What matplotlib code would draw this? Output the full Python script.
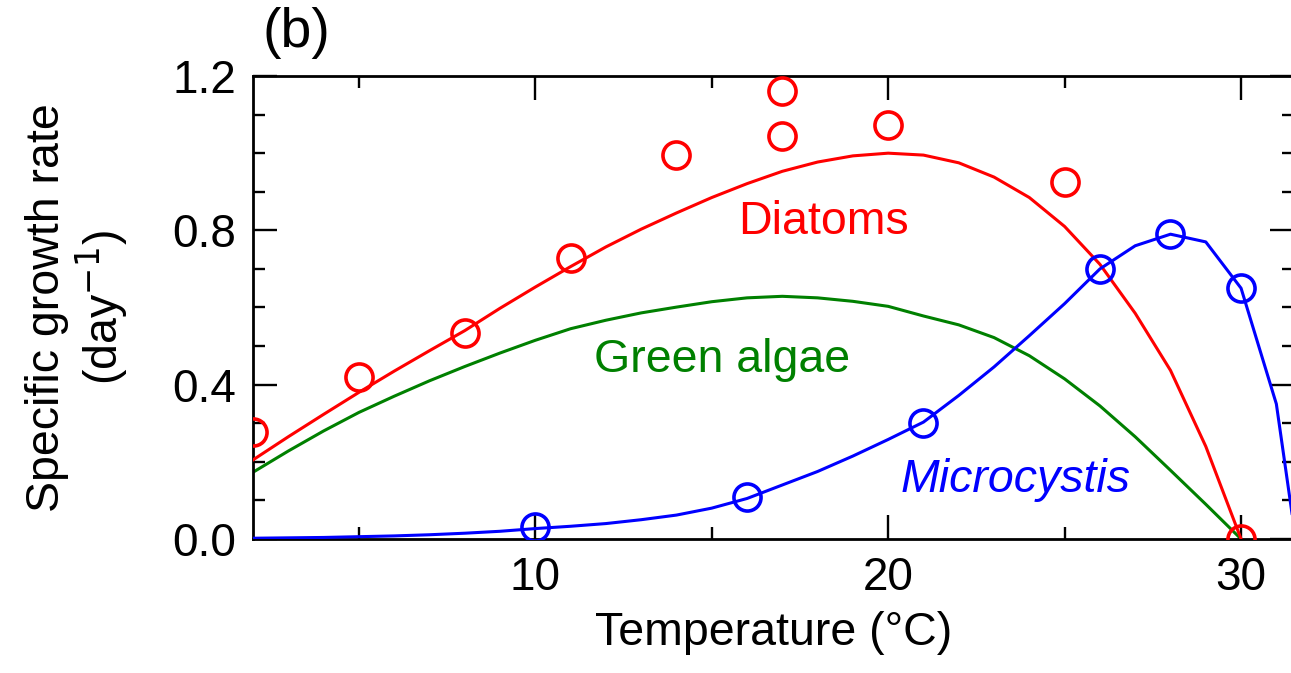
import matplotlib
matplotlib.use("Agg")
import matplotlib.pyplot as plt
from matplotlib.ticker import MultipleLocator, FormatStrFormatter

plt.rcParams['font.family'] = ['Liberation Sans', 'DejaVu Sans']

# Observed data points
diatom_T = [2, 5, 8, 11, 14, 17, 17, 20, 25, 30]
diatom_obs = [0.277, 0.42, 0.533, 0.727, 0.996, 1.045, 1.161, 1.073, 0.926, 0.0]
micro_T = [10, 16, 21, 26, 28, 30]
micro_obs = [0.031, 0.109, 0.300, 0.700, 0.790, 0.650]

# Model curves (values at 1 degree steps)
curve_T = list(range(2, 31))
diatom_curve = [0.205, 0.265, 0.323, 0.38, 0.435, 0.488, 0.54, 0.598, 0.653, 0.706,
                0.757, 0.803, 0.845, 0.885, 0.921, 0.953, 0.977, 0.993, 1.0, 0.995,
                0.975, 0.938, 0.885, 0.81, 0.712, 0.585, 0.437, 0.24, 0.0]
green_curve = [0.173, 0.228, 0.28, 0.328, 0.37, 0.41, 0.447, 0.482, 0.515, 0.545,
               0.567, 0.586, 0.601, 0.615, 0.625, 0.629, 0.625, 0.616, 0.603, 0.578,
               0.555, 0.522, 0.475, 0.415, 0.345, 0.265, 0.178, 0.09, 0.0]
micro_curve_T = list(range(2, 32)) + [31.5]
micro_curve = [0.002, 0.003, 0.004, 0.006, 0.008, 0.011, 0.015, 0.02, 0.027, 0.033,
               0.04, 0.05, 0.062, 0.08, 0.105, 0.14, 0.175, 0.215, 0.258, 0.303,
               0.372, 0.446, 0.527, 0.61, 0.70, 0.76, 0.79, 0.77, 0.65, 0.35, 0.03]

RED = '#ff0000'
GREEN = '#008000'
BLUE = '#0000ff'

fig = plt.figure(figsize=(12.91, 6.73), dpi=100)
ax = fig.add_axes([253/1291, (673-539)/673, (1294-253)/1291, (539-76)/673])

lw = 2.2
ax.plot(curve_T, diatom_curve, color=RED, lw=lw, zorder=3)
ax.plot(curve_T, green_curve, color=GREEN, lw=lw, zorder=2)
ax.plot(micro_curve_T, micro_curve, color=BLUE, lw=lw, zorder=3)

ax.plot(diatom_T, diatom_obs, 'o', ms=19.5, mfc='none', mec=RED, mew=2.6, zorder=4)
ax.plot(micro_T, micro_obs, 'o', ms=19.5, mfc='none', mec=BLUE, mew=2.6, zorder=4)

fs = 33.5
ax.text(18.16, 0.791, 'Diatoms', color=RED, fontsize=fs, ha='center', va='baseline')
ax.text(15.3, 0.432, 'Green algae', color=GREEN, fontsize=fs, ha='center', va='baseline')
ax.text(23.6, 0.122, 'Microcystis', color=BLUE, fontsize=fs, ha='center', va='baseline',
        style='italic')

ax.set_xlim(2, 31.5)
ax.set_ylim(0, 1.2)
ax.xaxis.set_major_locator(MultipleLocator(10))
ax.xaxis.set_minor_locator(MultipleLocator(5))
ax.yaxis.set_major_locator(MultipleLocator(0.4))
ax.yaxis.set_minor_locator(MultipleLocator(0.1))
ax.yaxis.set_major_formatter(FormatStrFormatter('%.1f'))

ax.tick_params(which='both', direction='in', top=True, right=True,
               labelsize=33, width=1.7, colors='black')
ax.tick_params(which='major', length=17, pad=12)
ax.tick_params(which='minor', length=8.5)
for s in ax.spines.values():
    s.set_linewidth(2.0)

ax.set_xlabel('Temperature (\u00b0C)', fontsize=fs, labelpad=8)
ax.set_ylabel('Specific growth rate\n(day$^{-1}$)', fontsize=fs, labelpad=30,
              linespacing=1.1)

fig.text(262/1291, (673-47)/673, '(b)', fontsize=40, ha='left', va='baseline')

fig.savefig('out.png', dpi=100)
